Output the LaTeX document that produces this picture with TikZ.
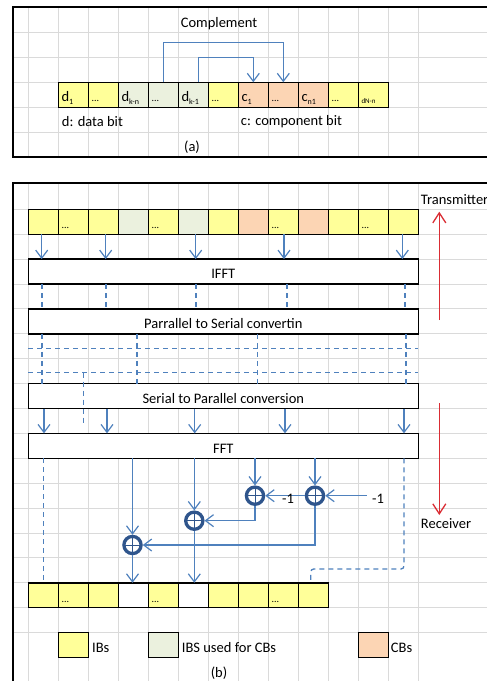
\documentclass[tikz,border=0pt]{standalone}
\usepackage{fontspec}
\setmainfont{Carlito}
\usetikzlibrary{arrows.meta}
\definecolor{ibY}{RGB}{255,255,153}
\definecolor{ibG}{RGB}{235,241,222}
\definecolor{cbP}{RGB}{252,213,180}
\definecolor{lnB}{RGB}{79,129,189}
\definecolor{ringB}{RGB}{47,85,140}
\definecolor{gridG}{RGB}{218,218,218}
\definecolor{redA}{RGB}{218,45,52}
\newcommand{\mysub}[1]{\raisebox{-2.5pt}{\fontsize{8}{9}\selectfont #1}}
\begin{document}
\begin{tikzpicture}[x=1pt,y=-1pt,
  txt/.style={font=\fontsize{14.5}{17}\selectfont, inner sep=0, text=black},
  dots/.style={font=\fontsize{10}{12}\selectfont, inner sep=0, anchor=base west},
  cell/.style={draw=black, line width=1.4pt, minimum width=30pt, minimum height=24.9pt, inner sep=0, outer sep=0, anchor=north west},
  bigbox/.style={draw=black, line width=1.4pt, fill=white, minimum width=390pt, minimum height=24.9pt, inner sep=0, outer sep=0, anchor=north west},
  arr/.style={draw=lnB, line width=1.2pt, -{Straight Barb[length=8pt,width=12pt]}},
  dsh/.style={draw=lnB, line width=1.3pt, dash pattern=on 5pt off 4pt},
  ring/.style={circle, draw=ringB, line width=3.3pt, minimum size=17.2pt, inner sep=0, fill=white},
  frame/.style={draw=black, line width=2pt},
  gridl/.style={draw=gridG, line width=1pt},
  redarr/.style={draw=redA, line width=1.3pt, -{Straight Barb[length=10pt,width=13pt]}},
]
\useasboundingbox (0,0) rectangle (487,681);
\clip (0,0) rectangle (487,681);

% ---------- grids ----------
\foreach \k in {0,...,13} \draw[gridl] ({28.3+30*\k},6.5) -- ({28.3+30*\k},156.7);
\foreach \y in {32.3,57.3,82.3,107.3,132.3} \draw[gridl] (12.5,\y) -- (487,\y);
\foreach \k in {0,...,13} \draw[gridl] ({28.3+30*\k},183.3) -- ({28.3+30*\k},681);
\foreach \k in {1,...,18} \draw[gridl] (12.5,{184.4+24.9*\k}) -- (487,{184.4+24.9*\k});

% ---------- frames ----------
\draw[frame] (500,6.5) -- (12.5,6.5) -- (12.5,156.7) -- (500,156.7);
\draw[frame] (500,183.3) -- (12.5,183.3) -- (12.5,690);

% ---------- part (a) ----------
\foreach \c [count=\i from 0] in {ibY,ibY,ibG,ibG,ibG,ibY,cbP,cbP,cbP,ibY,ibY}
  \node[cell, fill=\c] (t\i) at ({58.3+30*\i},82.3) {};
\node[txt, anchor=base west] (lt0) at ([xshift=3pt,yshift=5.5pt]t0.south west) {d\mysub{1}};
\node[txt, anchor=base west] (lt2) at ([xshift=3pt,yshift=5.5pt]t2.south west) {d\mysub{k-n}};
\node[txt, anchor=base west] (lt4) at ([xshift=3pt,yshift=5.5pt]t4.south west) {d\mysub{k-1}};
\node[txt, anchor=base west] (lt6) at ([xshift=3pt,yshift=5.5pt]t6.south west) {c\mysub{1}};
\node[txt, anchor=base west] (lt8) at ([xshift=3pt,yshift=5.5pt]t8.south west) {c\mysub{n1}};
\node[anchor=base west, inner sep=0, font=\fontsize{7}{8}\selectfont] (lt10) at ([xshift=3pt,yshift=4pt]t10.south west) {dN-n};
\foreach \i in {1,3,5,7,9}
  \node[dots] (ltd\i) at ([xshift=3pt,yshift=5.5pt]t\i.south west) {...};

\node[txt] (compl) at (219,23.3) {Complement};
\node[txt, anchor=west] (dlab) at (61.7,121.7) {d: data bit};
\node[txt, anchor=west] (clab) at (240.7,121.7) {c: component bit};
\node[txt] (alab) at (192,146.7) {(a)};

\draw[arr] (t3.north) -- ++(0,-40) -| (t7.north);
\draw[arr] ([xshift=5pt]t4.north) -- ++(0,-25) -| (t6.north);

% ---------- part (b) ----------
\foreach \c [count=\i from 0] in {ibY,ibY,ibY,ibG,ibY,ibG,ibY,cbP,ibY,cbP,ibY,ibY,ibY}
  \node[cell, fill=\c] (s\i) at ({28.3+30*\i},209.3) {};
\foreach \i in {1,4,8,11}
  \node[dots] (sd\i) at ([xshift=3pt,yshift=6pt]s\i.south west) {...};

\node[bigbox] (ifft) at (28.3,259.1) {};
\node[txt] (ifftl) at ([yshift=-2.5pt]ifft.center) {IFFT};
\node[bigbox] (ps) at (28.3,308.9) {};
\node[txt] (psl) at ([yshift=-2.5pt]ps.center) {Parrallel to Serial convertin};
\node[bigbox] (sp) at (28.3,383.6) {};
\node[txt] (spl) at ([yshift=-2.5pt]sp.center) {Serial to Parallel conversion};
\node[bigbox] (fft) at (28.3,433.4) {};
\node[txt] (fftl) at ([yshift=-2.5pt]fft.center) {FFT};

% cells -> IFFT
\foreach \x [count=\i] in {41.7,105.7,195.7,284,402.3} {
  \coordinate (ax\i) at (\x,0);
  \draw[arr] (ax\i |- s0.south) -- (ax\i |- ifft.north);
}
% IFFT -> P/S dashed
\foreach \x [count=\i] in {42,106,196,287,405} {
  \coordinate (bx\i) at (\x,0);
  \draw[dsh] (bx\i |- ifft.south) -- (bx\i |- ps.north);
}
% P/S -> S/P dashed
\foreach \x [count=\i] in {42,137,257.7,406} {
  \coordinate (cx\i) at (\x,0);
  \draw[dsh] (cx\i |- ps.south) -- (cx\i |- sp.north);
}
\coordinate (h1a) at (28.3,348.3); \coordinate (h1b) at (418.3,348.3);
\coordinate (h2a) at (28.3,372.7); \coordinate (h2b) at (418.3,372.7);
\draw[dsh] (h1a) -- (h1b);
\draw[dsh] (h2a) -- (h2b);
\coordinate (vd1) at (83.3,372.7); \coordinate (vd2) at (83.3,423);
\draw[dsh] (vd1) -- (vd2);
% S/P -> FFT
\foreach \x [count=\i] in {44,107,194.7,285,404} {
  \coordinate (dx\i) at (\x,0);
  \draw[arr] (dx\i |- sp.south) -- (dx\i |- fft.north);
}

% bottom cells
\foreach \c [count=\i from 0] in {ibY,ibY,ibY,white,ibY,white,ibY,ibY,ibY,ibY}
  \node[cell, fill=\c] (b\i) at ({28.3+30*\i},582.8) {};
\foreach \i in {1,4,8}
  \node[dots] (bd\i) at ([xshift=3pt,yshift=5pt]b\i.south west) {...};

% dashed from FFT to bottom cells
\coordinate (e1) at (43.7,0);
\draw[dsh] (e1 |- fft.south) -- (e1 |- b0.north);
\coordinate (e2) at (404,0);
\coordinate (e3) at (404,569);
\coordinate (e4) at (310.7,569);
\draw[dsh, rounded corners=3pt] (e2 |- fft.south) -- (e3) -- (e4) -- (e4 |- b9.north);

% adders
\node[ring] (c1) at (132.5,545) {};
\node[ring] (c2) at (194.3,520.7) {};
\node[ring] (c3) at (255,495.7) {};
\node[ring] (c4) at (315,495.7) {};
\foreach \n in {c1,c2,c3,c4} {
  \draw[ringB, line width=1pt] ([yshift=8.6pt]\n.center) -- ([yshift=-8.6pt]\n.center);
  \draw[ringB, line width=1pt] ([xshift=8.6pt]\n.center) -- ([xshift=-8.6pt]\n.center);
}
\draw[arr] (c1 |- fft.south) -- (c1.north);
\draw[arr] (c2 |- fft.south) -- (c2.north);
\draw[arr] (c3 |- fft.south) -- (c3.north);
\draw[arr] (c4 |- fft.south) -- (c4.north);
\draw[arr] (c1.south) -- (c1.south |- b3.north);
\draw[arr] (c2.south) -- (c2.south |- b5.north);
\draw[arr] (c3.south) |- (c2.east);
\draw[arr] (c4.south) |- (c1.east);
\draw[arr] (c4.west) -- (c3.east);
\node[txt] (m1l) at (288,499.3) {-1};
\coordinate (min) at (366.7,495.7);
\draw[arr] (min) -- (c4.east);
\node[txt] (m2l) at (378,499.3) {-1};

% transmitter / receiver
\node[txt, anchor=west] (tx) at (420.7,199.3) {Transmitter};
\coordinate (r1a) at (439.3,320); \coordinate (r1b) at (439.3,211.7);
\draw[redarr] (r1a) -- (r1b);
\coordinate (r2a) at (439.3,403); \coordinate (r2b) at (439.3,515);
\draw[redarr] (r2a) -- (r2b);
\node[txt, anchor=west] (rx) at (420.7,523.3) {Receiver};

% legend
\node[cell, fill=ibY] (lg1) at (58.3,632.6) {};
\node[txt, anchor=west] (lg1t) at (92,647.7) {IBs};
\node[cell, fill=ibG] (lg2) at (148.3,632.6) {};
\node[txt, anchor=west] (lg2t) at (181.7,647.7) {IBS used for CBs};
\node[cell, fill=cbP] (lg3) at (358.3,632.6) {};
\node[txt, anchor=west] (lg3t) at (390.7,647.7) {CBs};
\node[txt] (blab) at (219,672.7) {(b)};
\end{tikzpicture}
\end{document}
